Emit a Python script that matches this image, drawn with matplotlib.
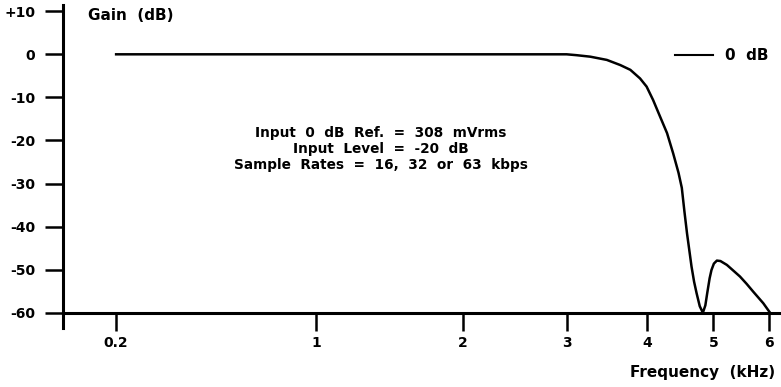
import numpy as np
import matplotlib
matplotlib.use("Agg")
import matplotlib.pyplot as plt

# ---- data ----
freq_khz = [0.2, 1.0, 2.0, 3.0, 3.11, 3.27, 3.47, 3.64, 3.77, 3.90, 3.99, 4.08,
            4.18, 4.28, 4.37, 4.45, 4.50, 4.54, 4.58, 4.62, 4.65, 4.69, 4.73,
            4.78, 4.83, 4.87, 4.90, 4.94, 4.97, 5.01, 5.06, 5.12, 5.23, 5.34,
            5.46, 5.58, 5.70, 5.89, 6.02]
gain_db = [0.0, 0.0, 0.0, 0.0, -0.2, -0.55, -1.3, -2.5, -3.6, -5.6, -7.5, -10.6,
           -14.5, -18.3, -23.0, -27.5, -31.0, -36.5, -41.6, -46.0, -49.3, -52.8, -55.5,
           -58.5, -60.0, -58.3, -55.5, -52.0, -50.1, -48.6, -47.9, -48.0, -48.9, -50.2,
           -51.6, -53.3, -55.1, -57.8, -60.0]
x_ticks = [0.2, 1, 2, 3, 4, 5, 6]
x_tick_labels = ["0.2", "1", "2", "3", "4", "5", "6"]
y_ticks = [10, 0, -10, -20, -30, -40, -50, -60]
y_tick_labels = ["+10", "0", "-10", "-20", "-30", "-40", "-50", "-60"]
series_label = "0  dB"
note_lines = ["Input  0  dB  Ref.  =  308  mVrms",
              "Input  Level  =  -20  dB",
              "Sample  Rates  =  16,  32  or  63  kbps"]

# ---- custom frequency axis: log(f+1) above 1 kHz, linear below ----
A = 0.691
LN2 = np.log(2.0)


def fwd(x):
    x = np.asarray(x, dtype=float)
    return np.where(x >= 1, np.log(np.maximum(x, 1.0) + 1.0), LN2 - (1.0 - x) * A)


def inv(u):
    u = np.asarray(u, dtype=float)
    return np.where(u >= LN2, np.exp(np.maximum(u, LN2)) - 1.0, 1.0 - (LN2 - u) / A)


plt.rcParams["font.family"] = ["DejaVu Sans"]
plt.rcParams["font.weight"] = "bold"

W, H = 781, 387
fig = plt.figure(figsize=(W / 100, H / 100), dpi=100)
ax = fig.add_axes([63 / W, 59 / H, 718 / W, 323 / H])
ax.set_xscale("function", functions=(fwd, inv))

ax.plot(freq_khz, gain_db, color="black", lw=1.8, label=series_label,
        solid_joinstyle="round")

ax.set_xlim(-0.0126, 6.236)
ax.set_ylim(-63.55, 11.45)

ax.spines["top"].set_visible(False)
ax.spines["right"].set_visible(False)
ax.spines["bottom"].set_position(("data", -60))
for s in ("left", "bottom"):
    ax.spines[s].set_linewidth(2.2)

ax.set_xticks(x_ticks)
ax.set_xticklabels(x_tick_labels)
ax.set_yticks(y_ticks)
ax.set_yticklabels(y_tick_labels)
ax.tick_params(axis="both", direction="out", length=13, width=1.8,
               labelsize=10, colors="black")
ax.tick_params(axis="y", pad=7)
ax.tick_params(axis="x", pad=4)
ax.minorticks_off()

ax.text((88 - 63) / 718, (328 - 16) / 323, "Gain  (dB)", transform=ax.transAxes,
        ha="left", va="center", fontsize=11, fontweight="bold")
fig.text(775 / W, 1 - 372 / H, "Frequency  (kHz)", ha="right", va="center",
         fontsize=11, fontweight="bold")

ax.text((381 - 63) / 718, (328 - 149) / 323, "\n".join(note_lines),
        transform=ax.transAxes, ha="center", va="center", multialignment="center",
        fontsize=9.8, fontweight="bold", linespacing=1.15)

leg = ax.legend(loc="center left", bbox_to_anchor=((675 - 63) / 718, (328 - 56) / 323),
                frameon=False, handlelength=38 / 15.3, handletextpad=12 / 15.3,
                borderpad=0, borderaxespad=0, fontsize=11)
for line in leg.get_lines():
    line.set_linewidth(1.5)

fig.savefig("out.png", dpi=100)
